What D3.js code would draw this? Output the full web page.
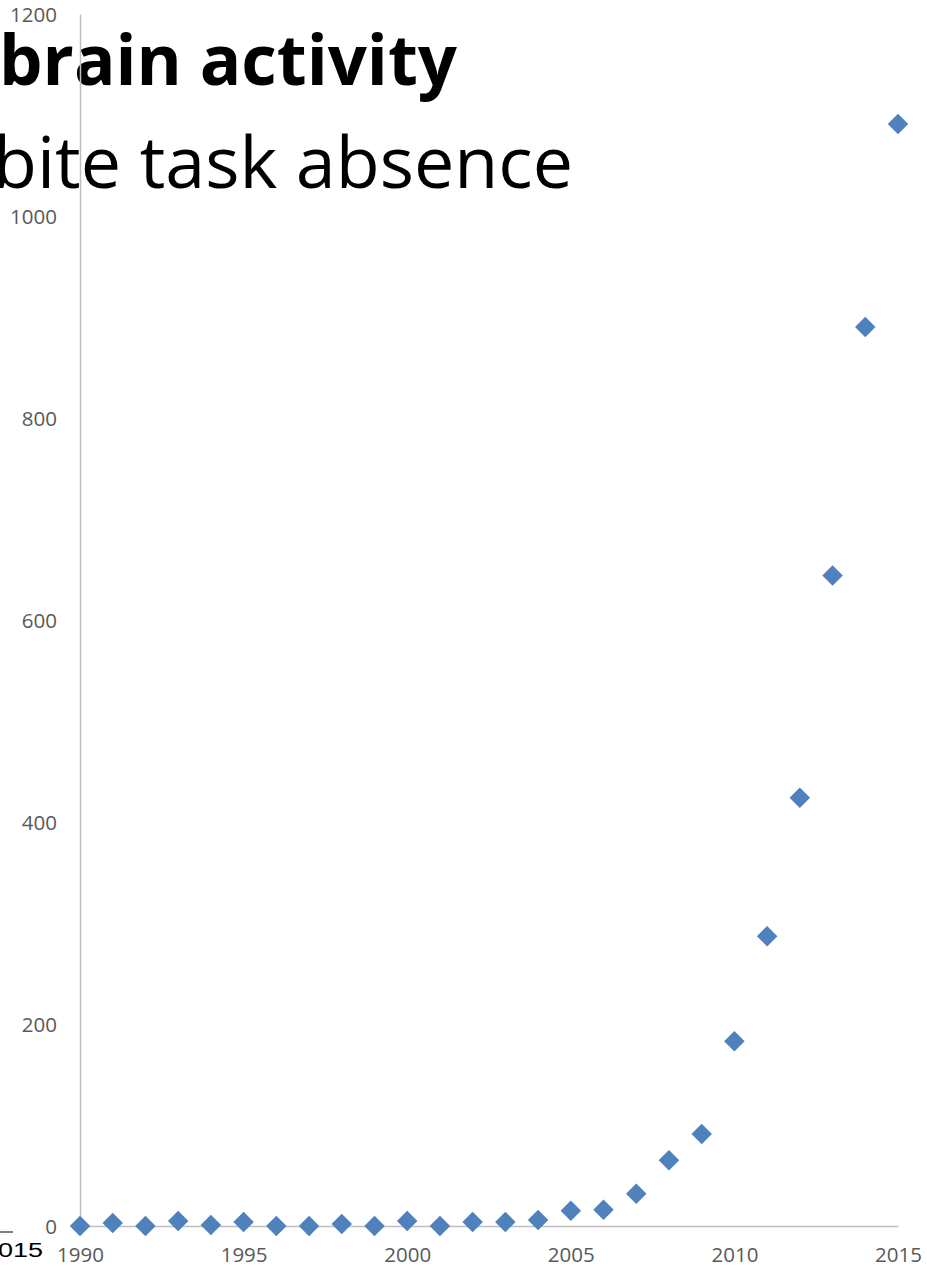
<!DOCTYPE html>
<html>
<head>
<meta charset="utf-8">
<script src="https://cdn.jsdelivr.net/npm/d3@7"></script>
<style>
  html, body { margin: 0; padding: 0; background: #fff; overflow: hidden; }
  svg { display: block; }
</style>
</head>
<body>
<script>
// Publications per year
const years = [1990, 1991, 1992, 1993, 1994, 1995, 1996, 1997, 1998, 1999,
               2000, 2001, 2002, 2003, 2004, 2005, 2006, 2007, 2008, 2009,
               2010, 2011, 2012, 2013, 2014, 2015];
const counts = [0, 3, 0, 5, 1, 4, 0, 0, 2, 0,
                5, 0, 4, 4, 6, 15, 16, 32, 65, 91,
                183, 287, 424, 644, 890, 1091];
const xTicks = [1990, 1995, 2000, 2005, 2010, 2015];
const yTicks = [0, 200, 400, 600, 800, 1000, 1200];
const titleLine1 = "brain activity";
const titleLine2 = "bite task absence";

const W = 927, H = 1267;
const svg = d3.select("body").append("svg").attr("width", W).attr("height", H);

const x = d3.scaleLinear().domain([1990, 2015]).range([80, 898]);
const y = d3.scaleLinear().domain([0, 1200]).range([1226, 14]);

const axisColor = "#BFBFBF";
const labelColor = "#595959";
const labelFont = "'Open Sans', sans-serif";

// Heading text, running off the left edge
svg.append("text")
  .attr("x", -1).attr("y", 85)
  .attr("font-family", "'Open Sans', sans-serif")
  .attr("font-weight", 700)
  .attr("font-size", 70)
  .attr("textLength", 458).attr("lengthAdjust", "spacingAndGlyphs")
  .attr("fill", "#000")
  .text(titleLine1);
svg.append("text")
  .attr("x", -7).attr("y", 188)
  .attr("font-family", "'Open Sans', sans-serif")
  .attr("font-size", 72)
  .attr("textLength", 580).attr("lengthAdjust", "spacingAndGlyphs")
  .attr("fill", "#000")
  .text(titleLine2);

// Axes
const xAxis = d3.axisBottom(x).tickValues(xTicks).tickFormat(d3.format("d")).tickSize(0).tickPadding(21);
const yAxis = d3.axisLeft(y).tickValues(yTicks).tickFormat(d3.format("d")).tickSize(0).tickPadding(23);

const gx = svg.append("g").attr("transform", `translate(0,${y(0)})`).call(xAxis);
const gy = svg.append("g").attr("transform", `translate(${x(1990)},0)`).call(yAxis);

[gx, gy].forEach(g => {
  g.select(".domain").attr("stroke", axisColor).attr("stroke-width", 1.5);
  g.selectAll("text")
    .attr("fill", labelColor)
    .attr("font-family", labelFont)
    .attr("font-size", 20.5);
});
gy.selectAll("text").attr("dy", "0.35em");

// Points
const diamond = d3.symbol().type(d3.symbolSquare).size(210);
svg.append("g").selectAll("path")
  .data(years.map((yr, i) => ({ yr, v: counts[i] })))
  .join("path")
  .attr("d", diamond)
  .attr("transform", d => `translate(${x(d.yr)},${y(d.v)}) rotate(45)`)
  .attr("fill", "#4F81BD");

// Fragment at bottom-left edge
svg.append("line")
  .attr("x1", 0).attr("x2", 13).attr("y1", 1232).attr("y2", 1232)
  .attr("stroke", "#808080").attr("stroke-width", 2);
svg.append("text")
  .attr("x", 43).attr("y", 1257)
  .attr("text-anchor", "end")
  .attr("font-family", "'Liberation Sans', Arial, sans-serif")
  .attr("font-size", 20)
  .attr("textLength", 60).attr("lengthAdjust", "spacingAndGlyphs")
  .attr("fill", "#000")
  .text("2015");
</script>
</body>
</html>
